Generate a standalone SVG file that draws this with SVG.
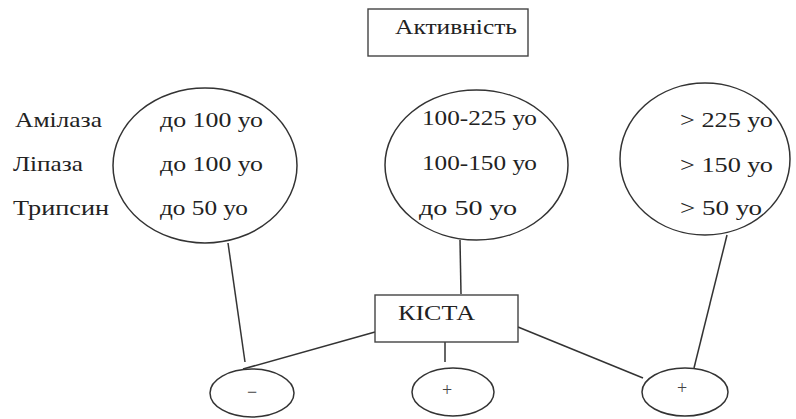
<svg xmlns="http://www.w3.org/2000/svg" width="796" height="419" viewBox="0 0 796 419">
<style>
.s{fill:none;stroke:#333;stroke-width:1.5}
.b{fill:#fff;stroke:#444;stroke-width:1.4}
text{font-family:"Liberation Serif","Times New Roman",serif;font-size:21px;fill:#222}
.sm{font-size:18px;fill:#444}
</style>
<rect width="796" height="419" fill="#fff"/>
<g id="connectors">
<line class="s" x1="228" y1="243" x2="245" y2="362"/>
<line class="s" x1="460" y1="240" x2="461" y2="294"/>
<line class="s" x1="727" y1="235" x2="694" y2="368"/>
<line class="s" x1="375" y1="332" x2="243" y2="369"/>
<line class="s" x1="445" y1="342" x2="445" y2="362"/>
<line class="s" x1="518" y1="327" x2="643" y2="378"/>
</g>
<g id="activity">
<rect class="b" x="368" y="9" width="160" height="47"/>
<text x="395" y="34" textLength="122" lengthAdjust="spacingAndGlyphs">Активність</text>
</g>
<g id="labels">
<text x="15" y="127" textLength="87" lengthAdjust="spacingAndGlyphs">Амілаза</text>
<text x="13" y="171" textLength="70" lengthAdjust="spacingAndGlyphs">Ліпаза</text>
<text x="13" y="215" textLength="96" lengthAdjust="spacingAndGlyphs">Трипсин</text>
</g>
<g id="normal">
<ellipse class="s" cx="205" cy="165.5" rx="92" ry="77.5"/>
<text x="160" y="127" textLength="103" lengthAdjust="spacingAndGlyphs">до 100 уо</text>
<text x="160" y="171" textLength="103" lengthAdjust="spacingAndGlyphs">до 100 уо</text>
<text x="160" y="215" textLength="88" lengthAdjust="spacingAndGlyphs">до 50 уо</text>
</g>
<g id="moderate">
<ellipse class="s" cx="476.5" cy="165" rx="91.5" ry="75"/>
<text x="422" y="125" textLength="115" lengthAdjust="spacingAndGlyphs">100-225 уо</text>
<text x="422" y="170" textLength="115" lengthAdjust="spacingAndGlyphs">100-150 уо</text>
<text x="419" y="215" textLength="98" lengthAdjust="spacingAndGlyphs">до 50 уо</text>
</g>
<g id="high">
<ellipse class="s" cx="705" cy="159" rx="85" ry="76"/>
<text x="680" y="127" textLength="93" lengthAdjust="spacingAndGlyphs">&gt; 225 уо</text>
<text x="680" y="172" textLength="93" lengthAdjust="spacingAndGlyphs">&gt; 150 уо</text>
<text x="680" y="215" textLength="82" lengthAdjust="spacingAndGlyphs">&gt; 50 уо</text>
</g>
<g id="cyst">
<rect class="b" x="375" y="295" width="143" height="47"/>
<text x="398" y="320" textLength="77" lengthAdjust="spacingAndGlyphs">КІСТА</text>
</g>
<g id="res-minus">
<ellipse class="s" cx="252" cy="393" rx="42" ry="24"/>
<text class="sm" x="252" y="398" text-anchor="middle">−</text>
</g>
<g id="res-plus-1">
<ellipse class="s" cx="453" cy="392" rx="41" ry="24"/>
<text class="sm" x="447" y="396" text-anchor="middle">+</text>
</g>
<g id="res-plus-2">
<ellipse class="s" cx="685" cy="392" rx="43" ry="24"/>
<text class="sm" x="682" y="394" text-anchor="middle">+</text>
</g>
</svg>
